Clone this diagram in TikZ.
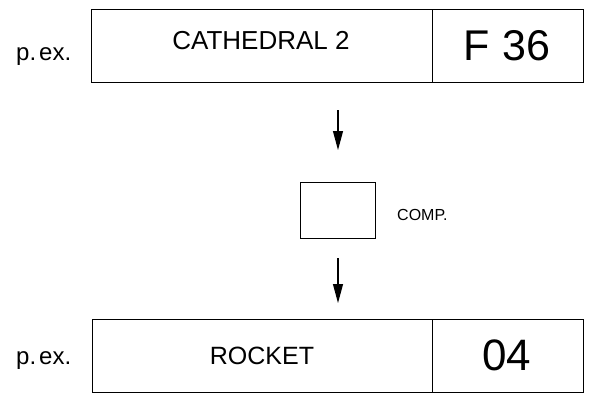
\documentclass[tikz,border=0pt]{standalone}
\usepackage{fontspec}
\setmainfont{Liberation Sans}
\usetikzlibrary{arrows.meta,calc}
\begin{document}
\begin{tikzpicture}[x=1pt,y=-1pt,
  box/.style={draw, line width=1.3pt, inner sep=0pt, anchor=north west},
  arr/.style={line width=1.1pt, -{Triangle[length=19pt,width=10pt]}},
  lbl/.style={inner sep=0pt, anchor=base}]
\useasboundingbox (0,0) rectangle (590,394);
% top row
\node[box, minimum width=341pt, minimum height=73pt] (tname) at (91,9) {};
\node[box, minimum width=151pt, minimum height=73pt] (tcode) at (432,9) {};
\node[lbl, font=\fontsize{26}{26}\selectfont] (ttext) at (261,49) {CATHEDRAL 2};
\node[lbl, font=\fontsize{43}{43}\selectfont] (tnum) at (507,60) {F 36};
\node[lbl, anchor=base west, font=\fontsize{24}{24}\selectfont] (tpex) at (16,60) {p.\kern3pt ex.};
% comp box
\node[box, line width=1pt, minimum width=75pt, minimum height=56pt] (comp) at (300,182) {};
\node[lbl, anchor=base west, font=\fontsize{16}{16}\selectfont] (complbl) at (397,220) {COMP.};
% bottom row
\node[box, minimum width=340pt, minimum height=73pt] (bname) at (92,319) {};
\node[box, minimum width=151pt, minimum height=73pt] (bcode) at (432,319) {};
\node[lbl, font=\fontsize{25}{25}\selectfont] (btext) at (262,364) {ROCKET};
\node[lbl, font=\fontsize{44}{44}\selectfont] (bnum) at (507,370) {04};
\node[lbl, anchor=base west, font=\fontsize{24}{24}\selectfont] (bpex) at (16,364) {p.\kern3pt ex.};
% arrows
\coordinate (a1s) at ($(comp.north)+(0,-72)$);
\coordinate (a1e) at ($(comp.north)+(0,-32)$);
\coordinate (a2s) at ($(comp.south)+(0,19)$);
\coordinate (a2e) at ($(comp.south)+(0,64)$);
\draw[arr] (a1s) -- (a1e);
\draw[arr] (a2s) -- (a2e);
\end{tikzpicture}
\end{document}
